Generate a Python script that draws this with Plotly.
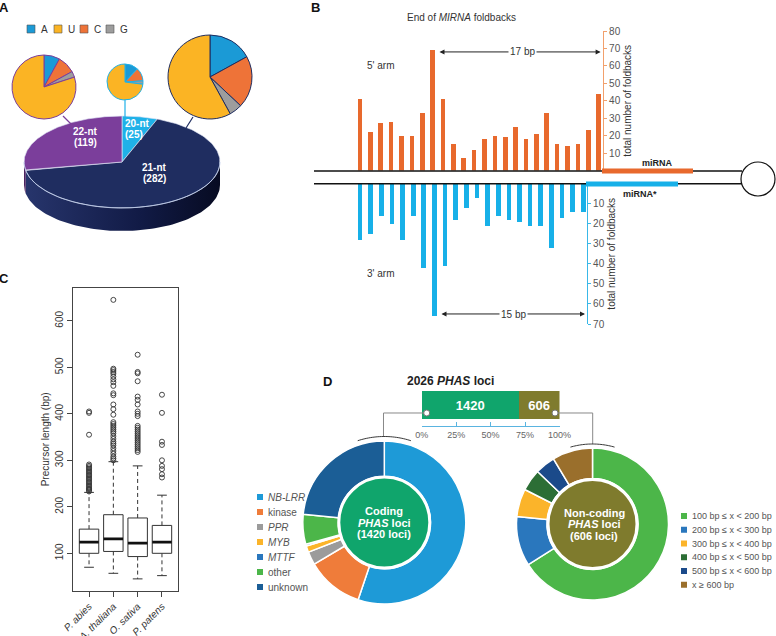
import numpy as np
import plotly.graph_objects as go

W, H = 776, 636
FONT = "Liberation Sans, Arial, sans-serif"

# ---------------- data ----------------
# A: miRNA size classes and 5' nucleotide composition (%)
nt_classes = ["20-nt", "21-nt", "22-nt"]
nt_counts = [25, 282, 119]
nucleotides = ["A", "U", "C", "G"]
comp_20nt = [12, 73, 12, 3]
comp_21nt = [17, 58, 20, 5]
comp_22nt = [8, 80, 9, 3]

# B: end of MIRNA foldbacks (positions counted from the loop-distal end)
arm5_pos = list(range(1, 25))
arm5_counts = [41, 22, 27, 28, 20, 20, 33, 69, 41, 15, 7, 12,
               18, 20, 19, 25, 18, 21, 33, 15, 14, 15, 23, 44]
arm3_pos = list(range(1, 23))
arm3_counts = [28, 25, 16, 20, 28, 16, 42, 66, 41, 18, 12, 7,
               21, 16, 18, 19, 21, 21, 32, 17, 14, 14]

# C: precursor length box plots
species = ["P. abies", "A. thaliana", "O. sativa", "P. patens"]
box_low = [70, 57, 45, 52]
box_q1 = [100, 104, 93, 100]
box_med = [124, 131, 122, 124]
box_q3 = [152, 183, 176, 160]
box_high = [231, 297, 288, 225]
out_abies = [233, 236, 238, 240, 243, 246, 249, 252, 255, 258, 261, 264, 267,
             270, 273, 276, 279, 282, 285, 288, 291, 355, 402, 405]
out_thaliana = [300, 304, 308, 314, 320, 326, 332, 336, 340, 346, 352, 358, 362,
                366, 370, 374, 378, 382, 398, 410, 420, 440, 444, 460, 468, 474,
                480, 486, 490, 494, 497, 645]
out_sativa = [318, 322, 326, 330, 334, 338, 342, 346, 350, 354, 358, 362, 366,
              370, 374, 395, 400, 405, 420, 430, 437, 470, 487, 490, 527]
out_patens = [263, 270, 281, 288, 300, 333, 340, 402, 441]

# D: PHAS loci
phas_groups = ["Coding", "Non-coding"]
phas_totals = [1420, 606]
coding_cats = ["NB-LRR", "kinase", "PPR", "MYB", "MTTF", "other", "unknown"]
coding_counts = [784, 160, 37, 18, 5, 84, 332]
noncoding_cats = ["100 bp ≤ x &lt; 200 bp", "200 bp ≤ x &lt; 300 bp",
                  "300 bp ≤ x &lt; 400 bp", "400 bp ≤ x &lt; 500 bp",
                  "500 bp ≤ x &lt; 600 bp", "x ≥ 600 bp"]
noncoding_counts = [400, 64, 36, 28, 26, 52]

# ---------------- colours ----------------
NT_COL = {"A": "#1b9ad6", "U": "#fbb424", "C": "#ee7338", "G": "#9d9d9d"}
LEN_TOP = {"20-nt": "#1fb1e8", "21-nt": "#1f2d60", "22-nt": "#7b3e9b"}
ORANGE = "#e8692d"
BLUE = "#17b0e8"
CODING_COL = ["#1e9ad7", "#ef7c3a", "#9b9b9b", "#fbb42a", "#2a77bd", "#4cb649", "#1b5e96"]
NONCOD_COL = ["#4cb649", "#2a77bd", "#fbb42a", "#2c6e35", "#1b4a8a", "#9a6f2c"]


def X(p):
    return p / W


def Y(p):
    return 1 - p / H


def dom(cx, cy, r):
    return dict(x=[X(cx - r), X(cx + r)], y=[Y(cy + r), Y(cy - r)])


def ppath(pts):
    return "M " + " L ".join(f"{X(a):.5f},{Y(b):.5f}" for a, b in pts)


fig = go.Figure()
shapes = []
annots = []


def text(x, y, s, size=10, color="#333", bold=False, xanchor="center", **kw):
    if bold:
        s = f"<b>{s}</b>"
    annots.append(dict(x=X(x), y=Y(y), xref="paper", yref="paper", text=s,
                       showarrow=False, xanchor=xanchor, yanchor="middle",
                       font=dict(family=FONT, size=size, color=color), **kw))


# ================= A: 3D pie =================
cx, cy, rx, ry, depth = 122, 162, 98, 46, 23
tot = sum(nt_counts)
slices = []
t0 = 90.0
for name, v in zip(nt_classes, nt_counts):
    t1 = t0 - v / tot * 360
    slices.append((name, t0, t1))
    t0 = t1

for name, a, b in slices:
    hi, lo = min(a, 0), max(b, -180)
    if hi <= lo:
        continue
    t = np.radians(np.linspace(hi, lo, 90))
    xs = cx + rx * np.cos(t)
    ys = cy - ry * np.sin(t)
    sx = np.concatenate([xs, xs[::-1], xs[:1]])
    sy = np.concatenate([ys, ys[::-1] + depth, ys[:1]])
    if name == "21-nt":
        fig.add_trace(go.Scatter(x=sx, y=sy, mode="lines", fill="toself", line=dict(width=0),
                                 fillgradient=dict(type="horizontal",
                                                   colorscale=[[0, "#27356c"], [0.6, "#111a45"], [1, "#070b22"]]),
                                 hoverinfo="skip", showlegend=False, xaxis="x", yaxis="y"))
    else:
        fig.add_trace(go.Scatter(x=sx, y=sy, mode="lines", fill="toself", line=dict(width=0),
                                 fillcolor="#4b225f", hoverinfo="skip", showlegend=False,
                                 xaxis="x", yaxis="y"))

for (name, a, b), v in zip(slices, nt_counts):
    t = np.radians(np.linspace(a, b, 160))
    xs = np.concatenate([[cx], cx + rx * np.cos(t), [cx]])
    ys = np.concatenate([[cy], cy - ry * np.sin(t), [cy]])
    fig.add_trace(go.Scatter(x=xs, y=ys, mode="lines", fill="toself", fillcolor=LEN_TOP[name],
                             line=dict(color="rgba(225,230,245,0.9)", width=0.7),
                             hoverinfo="text", text=f"{name} ({v})", showlegend=False,
                             xaxis="x", yaxis="y"))

t = np.radians(np.linspace(0, -180, 120))
fig.add_trace(go.Scatter(x=cx + rx * np.cos(t), y=cy - ry * np.sin(t), mode="lines",
                         line=dict(color="rgba(190,205,235,0.9)", width=0.8),
                         hoverinfo="skip", showlegend=False, xaxis="x", yaxis="y"))

text(85, 132, "22-nt", 10, "white", True)
text(85, 142, "(119)", 10, "white", True)
text(123, 124, "20-nt", 10, "white", True, xanchor="left")
text(123, 134, "(25)", 10, "white", True, xanchor="left")
text(154, 168, "21-nt", 10, "white", True)
text(154, 178, "(282)", 10, "white", True)

# small composition pies (slice order clockwise from top: A, C, G, U)
pie_order = ["A", "C", "G", "U"]
for comp, (pcx, pcy, pr), edge in [(comp_22nt, (44, 87, 32), LEN_TOP["22-nt"]),
                                   (comp_20nt, (125, 82, 18), LEN_TOP["20-nt"]),
                                   (comp_21nt, (210, 77, 42), LEN_TOP["21-nt"])]:
    vals = [comp[nucleotides.index(n)] for n in pie_order]
    fig.add_trace(go.Pie(values=vals, labels=pie_order, sort=False, direction="clockwise",
                         rotation=0, textinfo="none", domain=dom(pcx, pcy, pr),
                         marker=dict(colors=[NT_COL[n] for n in pie_order],
                                     line=dict(color=edge, width=1)),
                         showlegend=False, hoverinfo="label+percent"))

for (x0, y0, x1, y1), c in [((63, 116, 72, 125), LEN_TOP["22-nt"]),
                            ((125, 100, 125, 117), LEN_TOP["20-nt"]),
                            ((193, 117, 186, 128), LEN_TOP["21-nt"])]:
    shapes.append(dict(type="line", xref="paper", yref="paper", x0=X(x0), y0=Y(y0),
                       x1=X(x1), y1=Y(y1), line=dict(color=c, width=1.2)))

for n, sx0 in zip(nucleotides, [27, 54, 80, 106]):
    shapes.append(dict(type="rect", xref="paper", yref="paper", x0=X(sx0), x1=X(sx0 + 8),
                       y0=Y(33), y1=Y(25), fillcolor=NT_COL[n], line=dict(color="#555", width=0.6)))
    text(sx0 + 12, 29.5, n, 10, "#333", xanchor="left")

# ================= B: foldback ends =================
fig.add_trace(go.Bar(x=arm5_pos, y=arm5_counts, xaxis="x2", yaxis="y2", width=0.45,
                     marker=dict(color=ORANGE, line=dict(width=0)), showlegend=False))
fig.add_trace(go.Bar(x=arm3_pos, y=arm3_counts, xaxis="x3", yaxis="y3", width=0.44,
                     marker=dict(color=BLUE, line=dict(width=0)), showlegend=False))

for yy in (171, 183.7):
    shapes.append(dict(type="line", xref="paper", yref="paper", x0=X(314), x1=X(742),
                       y0=Y(yy), y1=Y(yy), line=dict(color="#111", width=1.4)))
shapes.append(dict(type="circle", xref="paper", yref="paper", x0=X(741), x1=X(775),
                   y0=Y(196), y1=Y(162), line=dict(color="#111", width=1.2)))
shapes.append(dict(type="rect", xref="paper", yref="paper", x0=X(602), x1=X(693),
                   y0=Y(173.6), y1=Y(168.4), fillcolor=ORANGE, line=dict(width=0)))
shapes.append(dict(type="rect", xref="paper", yref="paper", x0=X(586), x1=X(678),
                   y0=Y(186.6), y1=Y(181.4), fillcolor=BLUE, line=dict(width=0)))
text(657, 162.5, "miRNA", 9, "#222", True)
text(640, 194, "miRNA*", 9, "#222", True)

text(461, 18, "End of <i>MIRNA</i> foldbacks", 10, "#333")
text(380, 65, "5' arm", 10, "#333")
text(380, 273, "3' arm", 10, "#333")

annots.append(dict(x=24.19, y=68, ax=8.52, ay=68, xref="x2", yref="y2", axref="x2", ayref="y2",
                   text="", showarrow=True, arrowhead=2, startarrowhead=2, arrowside="end+start",
                   arrowsize=1, arrowwidth=1, arrowcolor="#222"))
annots.append(dict(x=22.16, y=65, ax=8.52, ay=65, xref="x3", yref="y3", axref="x3", ayref="y3",
                   text="", showarrow=True, arrowhead=2, startarrowhead=2, arrowside="end+start",
                   arrowsize=1, arrowwidth=1, arrowcolor="#222"))
text(522, 52, "17 bp", 10, "#333", bgcolor="white")
text(513, 314, "15 bp", 10, "#333", bgcolor="white")

# ================= C: box plots =================
bx, by = [], []
wx, wy = [], []
cxs, cys = [], []
mx, my = [], []
for i in range(len(species)):
    p = i + 1
    bx += [p - 0.4, p + 0.4, p + 0.4, p - 0.4, p - 0.4, None]
    by += [box_q1[i], box_q1[i], box_q3[i], box_q3[i], box_q1[i], None]
    wx += [p, p, None, p, p, None]
    wy += [box_q3[i], box_high[i], None, box_q1[i], box_low[i], None]
    cxs += [p - 0.2, p + 0.2, None, p - 0.2, p + 0.2, None]
    cys += [box_high[i], box_high[i], None, box_low[i], box_low[i], None]
    mx += [p - 0.4, p + 0.4, None]
    my += [box_med[i], box_med[i], None]

fig.add_trace(go.Scatter(x=wx, y=wy, mode="lines", line=dict(color="#333", width=1, dash="4px,3px"),
                         xaxis="x4", yaxis="y4", showlegend=False, hoverinfo="skip"))
fig.add_trace(go.Scatter(x=cxs, y=cys, mode="lines", line=dict(color="#333", width=1),
                         xaxis="x4", yaxis="y4", showlegend=False, hoverinfo="skip"))
fig.add_trace(go.Scatter(x=bx, y=by, mode="lines", fill="toself", fillcolor="white",
                         line=dict(color="#333", width=1), xaxis="x4", yaxis="y4",
                         showlegend=False, hoverinfo="skip"))
fig.add_trace(go.Scatter(x=mx, y=my, mode="lines", line=dict(color="#111", width=2.6),
                         xaxis="x4", yaxis="y4", showlegend=False, hoverinfo="skip"))
ox, oy = [], []
for i, outs in enumerate([out_abies, out_thaliana, out_sativa, out_patens]):
    ox += [i + 1] * len(outs)
    oy += outs
fig.add_trace(go.Scatter(x=ox, y=oy, mode="markers",
                         marker=dict(symbol="circle-open", size=5, color="#333", line=dict(width=0.9)),
                         xaxis="x4", yaxis="y4", showlegend=False))

# ================= D: PHAS loci =================
fig.add_trace(go.Bar(x=[phas_totals[0]], y=[0.6], orientation="h", width=0.8, xaxis="x5", yaxis="y5",
                     marker=dict(color="#10a56c", line=dict(width=0)), text=[f"<b>{phas_totals[0]}</b>"],
                     textposition="inside", insidetextanchor="middle",
                     textfont=dict(family=FONT, size=13, color="white"), showlegend=False,
                     name=phas_groups[0]))
fig.add_trace(go.Bar(x=[phas_totals[1]], y=[0.6], orientation="h", width=0.8, xaxis="x5", yaxis="y5",
                     marker=dict(color="#7f7b2d", line=dict(width=0)), text=[f"<b>{phas_totals[1]}</b>"],
                     textposition="inside", insidetextanchor="middle",
                     textfont=dict(family=FONT, size=13, color="white"), showlegend=False,
                     name=phas_groups[1]))
text(450, 381, "2026 <i>PHAS</i> loci", 12, "#222", True)

fig.add_trace(go.Pie(values=coding_counts, labels=coding_cats, sort=False, direction="clockwise",
                     rotation=0, hole=0.565, textinfo="none", domain=dom(384.3, 522.5, 81.5),
                     marker=dict(colors=CODING_COL, line=dict(color="white", width=1.5)),
                     showlegend=False))
fig.add_trace(go.Pie(values=noncoding_counts, labels=[c.replace("&lt;", "<") for c in noncoding_cats],
                     sort=False, direction="clockwise", rotation=0, hole=0.6, textinfo="none",
                     domain=dom(592.5, 524, 76),
                     marker=dict(colors=NONCOD_COL, line=dict(color="white", width=1.5)),
                     showlegend=False))
fig.add_trace(go.Pie(values=[phas_totals[0]], labels=["Coding"], textinfo="none", sort=False,
                     domain=dom(384.3, 522.5, 45.5),
                     marker=dict(colors=["#10a56c"], line=dict(color="white", width=3)),
                     showlegend=False))
fig.add_trace(go.Pie(values=[phas_totals[1]], labels=["Non-coding"], textinfo="none", sort=False,
                     domain=dom(592.5, 524, 44.5),
                     marker=dict(colors=["#7f7b2d"], line=dict(color="white", width=3)),
                     showlegend=False))

text(384, 511, "Coding", 11, "white", True)
text(384, 522.5, "<i>PHAS</i> loci", 11, "white", True)
text(384, 534, "(1420 loci)", 11, "white", True)
text(594, 512.5, "Non-coding", 11, "white", True)
text(594, 524, "<i>PHAS</i> loci", 11, "white", True)
text(594, 535.5, "(606 loci)", 11, "white", True)

# connectors between the bar and the donuts
shapes.append(dict(type="path", xref="paper", yref="paper",
                   path=ppath([(426.7, 413), (383.5, 413), (383.5, 437)]),
                   line=dict(color="#888", width=1)))
shapes.append(dict(type="path", xref="paper", yref="paper",
                   path=ppath([(555, 413), (592.7, 413), (592.7, 444)]),
                   line=dict(color="#888", width=1)))
for dx, dy in [(426.7, 413), (555, 413)]:
    shapes.append(dict(type="circle", xref="paper", yref="paper", x0=X(dx - 3), x1=X(dx + 3),
                       y0=Y(dy + 3), y1=Y(dy - 3), fillcolor="white", line=dict(color="#777", width=1)))
for acx, acy, ar, aspan in [(384.3, 522.5, 86, 18), (592.5, 524, 80, 16)]:
    th = np.radians(np.linspace(-aspan, aspan, 30))
    shapes.append(dict(type="path", xref="paper", yref="paper",
                       path=ppath(list(zip(acx + ar * np.sin(th), acy - ar * np.cos(th)))),
                       line=dict(color="#222", width=0.9)))

# legends
for k, (c, col) in enumerate(zip(coding_cats, CODING_COL)):
    yy = 497 + 15 * k
    shapes.append(dict(type="rect", xref="paper", yref="paper", x0=X(257), x1=X(263),
                       y0=Y(yy + 3), y1=Y(yy - 3), fillcolor=col, line=dict(width=0)))
    lab = f"<i>{c}</i>" if c in ("NB-LRR", "PPR", "MYB", "MTTF") else c
    text(266, yy, lab, 10, "#555", xanchor="left")
for k, (c, col) in enumerate(zip(noncoding_cats, NONCOD_COL)):
    yy = 516 + 13.75 * k
    shapes.append(dict(type="rect", xref="paper", yref="paper", x0=X(681), x1=X(687),
                       y0=Y(yy + 3), y1=Y(yy - 3), fillcolor=col, line=dict(width=0)))
    text(690, yy, c, 9, "#555", xanchor="left")

# panel letters
text(4, 7, "A", 13, "#111", True)
text(315, 7, "B", 13, "#111", True)
text(4, 278, "C", 13, "#111", True)
text(327, 381, "D", 13, "#111", True)

tick_font = dict(family=FONT, size=10, color="#555")
fig.update_layout(
    width=W, height=H, margin=dict(l=0, r=0, t=0, b=0, autoexpand=False),
    paper_bgcolor="white", plot_bgcolor="rgba(0,0,0,0)",
    font=dict(family=FONT, size=10, color="#333"),
    barmode="stack", bargap=0,
    xaxis=dict(domain=[0, X(260)], range=[0, 260], visible=False, anchor="y", automargin=False),
    yaxis=dict(domain=[Y(240), 1], range=[240, 0], visible=False, anchor="x", automargin=False),
    xaxis2=dict(domain=[X(314), 1], range=[-3.43, 41.09], visible=False, anchor="y2", automargin=False),
    yaxis2=dict(domain=[Y(170.5), Y(31)], range=[0, 80], anchor="free", position=X(603),
                side="right", showline=True, linecolor="#f2a06c", linewidth=1.2, automargin=False,
                ticks="outside", ticklen=3, tickcolor="#f2a06c", tickvals=list(range(10, 81, 10)),
                tickfont=tick_font, showgrid=False, zeroline=False,
                title=dict(text="total number of foldbacks", font=dict(family=FONT, size=10, color="#333"),
                           standoff=4)),
    xaxis3=dict(domain=[X(314), 1], range=[-3.326, 40.12], visible=False, anchor="y3", automargin=False),
    yaxis3=dict(domain=[Y(324), Y(183.5)], range=[70, 0], anchor="free", position=X(587),
                side="right", showline=True, linecolor="#39b8e8", linewidth=1.2, automargin=False,
                ticks="outside", ticklen=3, tickcolor="#39b8e8", tickvals=list(range(10, 71, 10)),
                tickfont=tick_font, showgrid=False, zeroline=False,
                title=dict(text="total number of foldbacks", font=dict(family=FONT, size=10, color="#333"),
                           standoff=4)),
    xaxis4=dict(domain=[X(73), X(178)], range=[0.34, 4.66], anchor="y4", automargin=False,
                tickvals=[1, 2, 3, 4], ticktext=[f"<i>{s}</i>" for s in species], tickangle=-45,
                ticks="outside", ticklen=5, tickcolor="#444", showline=True, mirror=True,
                linecolor="#444", linewidth=1, showgrid=False, zeroline=False,
                tickfont=dict(family=FONT, size=10, color="#333")),
    yaxis4=dict(domain=[Y(590.7), Y(288)], range=[19.6, 670.5], anchor="x4", automargin=False,
                tickvals=[100, 200, 300, 400, 500, 600], tickangle=-90,
                ticks="outside", ticklen=5, tickcolor="#444", showline=True, mirror=True,
                linecolor="#444", linewidth=1, showgrid=False, zeroline=False,
                tickfont=dict(family=FONT, size=10, color="#333"),
                title=dict(text="Precursor length (bp)", font=dict(family=FONT, size=10, color="#333"),
                           standoff=2)),
    xaxis5=dict(domain=[X(421.7), X(559.5)], range=[0, sum(phas_totals)], anchor="y5", automargin=False,
                tickvals=[0, 506.5, 1013, 1519.5, 2026], ticktext=["0%", "25%", "50%", "75%", "100%"],
                ticks="inside", ticklen=4, tickcolor="#5ab4e0", showline=True, linecolor="#5ab4e0",
                linewidth=1.3, showgrid=False, zeroline=False,
                tickfont=dict(family=FONT, size=9, color="#666")),
    yaxis5=dict(domain=[Y(426), Y(391)], range=[0, 1], visible=False, anchor="x5", automargin=False),
    shapes=shapes, annotations=annots,
)

fig.write_html("out.html", config={"displayModeBar": False},
               post_script="document.body.style.margin='0px';")
